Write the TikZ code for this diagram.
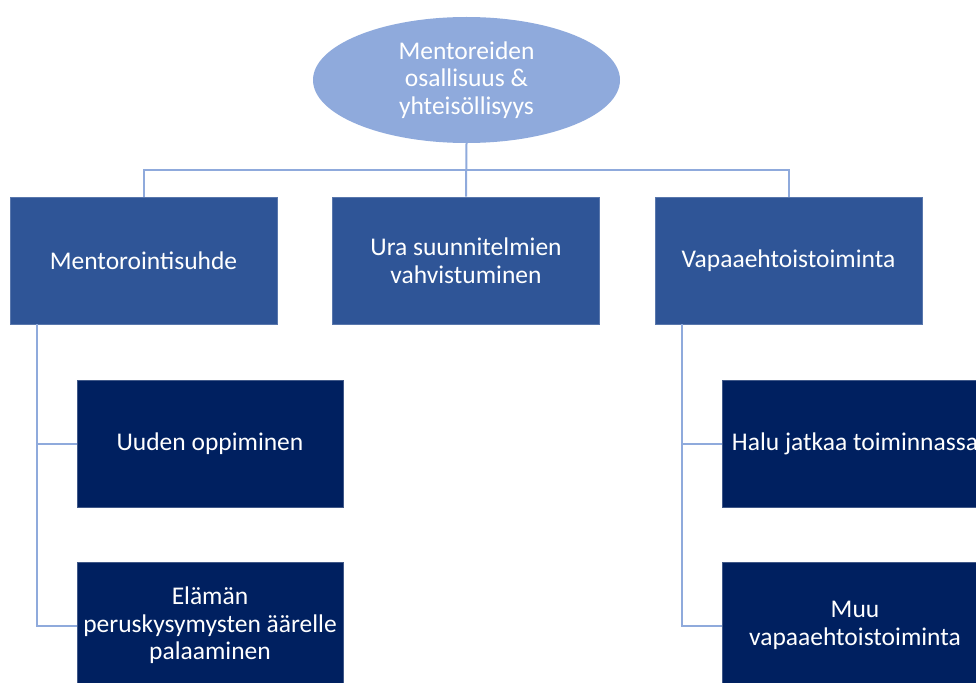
\documentclass[tikz,border=0pt]{standalone}
\usepackage{fontspec}
\setmainfont{Carlito}
\usetikzlibrary{shapes.geometric}
\definecolor{rootfill}{RGB}{143,170,220}
\definecolor{levelfill}{RGB}{47,85,151}
\definecolor{leaffill}{RGB}{0,32,96}
\definecolor{linkcol}{RGB}{143,170,220}
\begin{document}
\begin{tikzpicture}[x=1pt,y=-1pt,
  every node/.style={font=\fontsize{25.5}{27.5}\selectfont, text=white, align=center, inner sep=0pt},
  rootnode/.style={ellipse, fill=rootfill, minimum width=307pt, minimum height=126pt},
  levelbox/.style={rectangle, fill=levelfill, draw=levelfill!80!white, line width=0.6pt,
                   minimum width=267pt, minimum height=127pt},
  leafbox/.style={rectangle, fill=leaffill, draw=leaffill!75!white, line width=0.6pt,
                  minimum width=266pt, minimum height=127pt},
  link/.style={draw=linkcol, line width=2pt}
]
\useasboundingbox (0,0) rectangle (976,682);

% top of the hierarchy
\node[rootnode] (root) at (466.5,80) {Mentoreiden\\osallisuus \&\\yhteisöllisyys};

% second level
\node[levelbox] (l1a) at (143.5,260.5) {Mentorointisuhde};
\node[levelbox] (l1b) at (466,260.5) {Ura suunnitelmien\\vahvistuminen};
\node[levelbox] (l1c) at (788.5,260.5) {Vapaaehtoistoiminta};

% third level
\node[leafbox] (a1) at (210,443.5) {Uuden oppiminen};
\node[leafbox] (a2) at (210,625.5) {Elämän\\peruskysymysten äärelle\\palaaminen};
\node[leafbox] (c1) at (855,443.5) {Halu jatkaa toiminnassa};
\node[leafbox] (c2) at (855,625.5) {Muu\\vapaaehtoistoiminta};

% connectors
\coordinate (bar) at (466,170);
\draw[link] (root.south) -- (l1b.north);
\draw[link] (l1a.north) |- (bar) -| (l1c.north);
\draw[link] ([xshift=27pt]l1a.south west) |- (a1.west);
\draw[link] ([xshift=27pt]l1a.south west) |- (a2.west);
\draw[link] ([xshift=27pt]l1c.south west) |- (c1.west);
\draw[link] ([xshift=27pt]l1c.south west) |- (c2.west);
\end{tikzpicture}
\end{document}
